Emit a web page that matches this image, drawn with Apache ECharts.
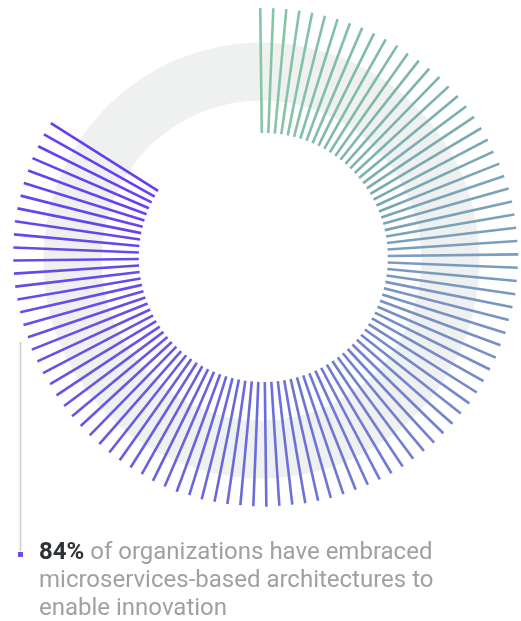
<!DOCTYPE html>
<html>
<head>
<meta charset="utf-8">
<script src="https://cdn.jsdelivr.net/npm/echarts@6/dist/echarts.min.js"></script>
<style>
  html, body { margin: 0; padding: 0; background: #ffffff; }
  #chart { width: 521px; height: 621px; }
</style>
</head>
<body>
<div id="chart"></div>
<script>
// Radial "84%" burst: one spoke per slot, 120 slots around the circle.
const SLOT_COUNT = 120;
const SHARE_LABEL = '84%';
const CAPTION_LINES = [
  'of organizations have embraced',
  'microservices-based architectures to',
  'enable innovation'
];
// Inner radius where every spoke starts (radius-axis units).
const SPOKE_BASE = 124.5;
// Outer radius reached by each spoke, slot 0 at twelve o'clock, clockwise.
const spokeOuter = [
  249.5, 249.5, 249.5, 249.5, 249.5, 249.5, 249.7, 249.8, 250.0, 250.0,
  250.1, 250.6, 250.1, 250.9, 251.5, 252.3, 252.3, 252.9, 253.1, 253.4,
  253.6, 253.5, 253.3, 254.0, 254.3, 254.8, 255.0, 254.7, 254.6, 254.6,
  255.0, 254.6, 254.5, 254.6, 254.1, 253.3, 253.6, 252.9, 253.1, 252.8,
  252.6, 252.6, 252.4, 251.7, 251.8, 251.6, 251.8, 251.4, 250.9, 251.3,
  250.9, 250.5, 250.2, 250.0, 249.8, 249.6, 249.4, 249.3, 248.8, 248.9,
  249.2, 248.9, 248.7, 249.1, 249.2, 249.5, 249.0, 249.7, 249.4, 249.1,
  248.3, 248.5, 248.5, 248.5, 248.5, 248.5, 248.5, 248.5, 248.5, 248.6,
  247.9, 248.8, 248.6, 249.1, 248.5, 249.1, 249.2, 249.4, 249.8, 249.8,
  250.0, 250.2, 250.4, 251.0, 250.7, 250.5, 250.8, 250.8, 251.3, 251.1,
  251.5, 251.4
];

// Colour ramp along the sweep: sea green -> slate blue -> violet.
const rampStops = [
  [0.00, [134, 198, 166]],
  [0.10, [128, 187, 168]],
  [0.20, [121, 170, 178]],
  [0.30, [122, 156, 192]],
  [0.40, [117, 137, 200]],
  [0.50, [111, 122, 210]],
  [0.60, [107, 108, 218]],
  [0.75, [104, 86, 228]],
  [1.00, [102, 62, 242]]
];
function rampColor(t) {
  for (let k = 1; k < rampStops.length; k++) {
    if (t <= rampStops[k][0]) {
      const [t0, c0] = rampStops[k - 1];
      const [t1, c1] = rampStops[k];
      const f = (t - t0) / (t1 - t0);
      const c = c0.map((v, j) => Math.round(v + (c1[j] - v) * f));
      return 'rgb(' + c.join(',') + ')';
    }
  }
  const last = rampStops[rampStops.length - 1][1];
  return 'rgb(' + last.join(',') + ')';
}

const lastSlot = spokeOuter.length - 1;
const spokeData = spokeOuter.map((r, slot) => [r, slot]);

const chart = echarts.init(document.getElementById('chart'), null, { renderer: 'canvas' });

chart.setOption({
  animation: false,
  backgroundColor: '#ffffff',
  polar: { center: [263.3, 257.5], radius: 260 },
  angleAxis: {
    type: 'value', min: 0, max: SLOT_COUNT,
    startAngle: 90.7, clockwise: true, show: false
  },
  radiusAxis: { type: 'value', min: 0, max: 260, show: false },
  title: {
    left: 39, top: 539, padding: 0,
    text: '{b|' + SHARE_LABEL + '} {g|' + CAPTION_LINES[0] + '}\n{g|' + CAPTION_LINES[1] + '}\n{g|' + CAPTION_LINES[2] + '}',
    textStyle: {
      fontFamily: 'Roboto', fontSize: 24, lineHeight: 28,
      rich: {
        b: { fontFamily: 'Roboto', fontSize: 24, lineHeight: 28, fontWeight: 'bold', color: '#2e3236' },
        g: { fontFamily: 'Roboto', fontSize: 24, lineHeight: 28, fontWeight: 'normal', color: '#9da1a3' }
      }
    }
  },
  graphic: [
    { type: 'line', z: 5, shape: { x1: 20.5, y1: 342, x2: 20.5, y2: 551 },
      style: { stroke: '#c9cbcc', lineWidth: 1.5 } },
    { type: 'rect', z: 5, shape: { x: 18, y: 552, width: 5, height: 5 },
      style: { fill: '#6a4cf0' } }
  ],
  series: [
    {
      // Pale track ring behind the spokes
      type: 'pie', z: 1, silent: true,
      center: [261.5, 260.5], radius: [160, 218],
      label: { show: false }, labelLine: { show: false },
      itemStyle: { color: '#eff1f1' },
      data: [{ value: 1 }]
    },
    {
      type: 'custom', z: 2, coordinateSystem: 'polar', silent: true,
      data: spokeData,
      renderItem: function (params, api) {
        const outer = api.value(0);
        const slot = api.value(1);
        const p0 = api.coord([SPOKE_BASE, slot]);
        const p1 = api.coord([outer, slot]);
        return {
          type: 'line',
          shape: { x1: p0[0], y1: p0[1], x2: p1[0], y2: p1[1] },
          style: { stroke: rampColor(slot / lastSlot), lineWidth: 2.6, lineCap: 'butt' }
        };
      }
    }
  ]
});
</script>
</body>
</html>
